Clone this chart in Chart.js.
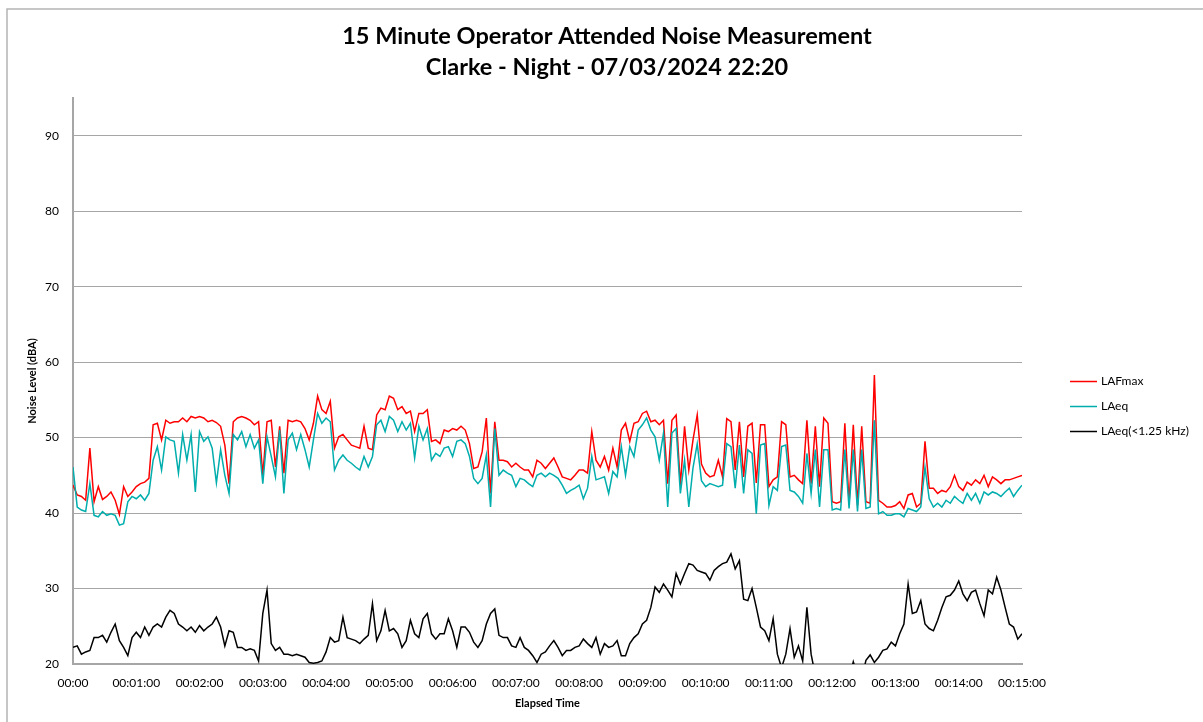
<!DOCTYPE html>
<html>
<head>
<meta charset="utf-8">
<title>15 Minute Operator Attended Noise Measurement</title>
<script src="https://cdn.jsdelivr.net/npm/chart.js@4.4.1/dist/chart.umd.min.js"></script>
<style>
  html, body { margin: 0; padding: 0; background: #fff; }
</style>
</head>
<body>
<canvas id="noiseChart" width="1203" height="722"></canvas>
<script>
// readings sampled every 4 seconds over the 15 minute measurement
var sampleStep = 4;

var titleLines = ['15 Minute Operator Attended Noise Measurement', 'Clarke - Night - 07/03/2024 22:20'];
var seriesNames = ['LAFmax', 'LAeq', 'LAeq(<1.25 kHz)'];
var yTicks = [20, 30, 40, 50, 60, 70, 80, 90];

var lafmax = [
  43.7,42.4,42.2,41.7,48.6,41.5,43.5,41.8,42.2,42.8,41.7,39.8,43.5,42.2,42.8,43.5,43.9,44.1,44.6,
  51.7,51.9,49.7,52.3,51.9,52.1,52.1,52.6,52.1,52.8,52.6,52.8,52.6,52.1,52.3,52.0,51.5,49.0,43.9,
  52.1,52.6,52.8,52.6,52.3,51.7,52.1,45.0,52.1,52.3,46.1,51.5,45.3,52.3,52.1,52.3,52.1,51.2,49.7,
  51.9,55.5,53.7,53.2,54.8,48.6,50.1,50.4,49.7,49.0,48.8,48.6,51.5,48.6,48.4,53.0,53.9,53.7,55.5,
  55.2,53.7,54.1,53.2,53.5,50.8,53.2,53.2,53.7,49.5,49.7,49.2,51.0,50.8,51.2,51.0,51.5,51.0,49.2,
  45.9,46.1,48.1,52.6,42.6,52.1,47.0,47.0,46.8,46.1,46.6,46.1,45.7,45.7,44.8,47.0,46.6,45.9,46.6,
  47.3,46.1,44.8,44.6,44.4,45.0,45.7,45.7,45.3,50.8,47.0,46.1,47.5,45.7,48.6,46.1,51.0,51.9,49.5,
  51.9,52.1,53.2,53.5,52.1,52.3,51.7,52.3,43.9,52.3,53.0,43.7,51.5,45.7,49.7,53.0,46.5,45.3,44.8,
  45.0,47.0,44.8,52.5,52.1,45.7,52.1,44.8,51.5,51.9,44.0,51.7,51.7,43.5,44.4,44.8,52.1,51.7,44.8,
  45.0,44.4,43.9,52.3,43.9,51.5,43.5,52.6,51.9,41.5,41.3,41.5,51.9,41.3,51.7,41.0,51.5,41.5,41.3,
  58.3,41.7,41.3,40.8,40.8,41.0,41.5,40.6,42.4,42.6,40.8,41.3,49.5,43.3,43.3,42.6,43.0,42.8,43.5,
  45.0,43.5,43.0,44.1,43.7,44.4,43.9,45.0,43.5,44.8,44.4,43.9,44.4,44.4,44.6,44.8,45.0
];

var laeq = [
  46.1,40.8,40.4,40.2,43.9,39.7,39.5,40.2,39.7,39.9,39.7,38.4,38.6,41.5,42.2,41.9,42.4,41.7,42.6,
  47.0,48.8,45.7,50.1,49.7,49.5,45.3,50.4,47.0,50.4,42.8,50.8,49.5,50.1,48.6,44.0,48.4,45.0,42.6,
  50.4,49.7,50.8,48.8,50.4,48.6,49.7,43.9,50.1,47.5,44.8,51.0,42.6,49.7,50.6,48.4,50.4,48.4,46.1,
  49.7,53.2,51.9,52.6,52.1,45.7,47.0,47.7,47.0,46.6,46.1,45.7,47.5,46.1,47.5,51.7,52.3,50.8,52.8,
  52.3,50.8,52.1,51.0,51.9,47.3,51.5,49.7,51.2,47.0,47.9,47.5,48.6,48.8,47.5,49.5,49.7,49.2,47.5,
  44.6,43.9,44.6,47.7,40.8,51.2,45.0,45.7,45.3,45.0,43.5,44.6,44.4,43.9,43.5,45.0,45.3,44.8,45.3,
  45.0,44.6,43.7,42.6,43.0,43.3,43.7,41.9,43.3,47.5,44.4,44.6,44.8,42.6,45.5,44.8,48.8,45.0,48.8,
  47.5,51.0,51.7,52.6,51.0,50.1,47.0,50.6,40.8,50.6,51.2,42.6,47.0,40.8,46.0,49.2,44.3,43.5,43.9,
  43.7,43.5,43.7,49.2,48.8,43.3,49.0,42.6,48.4,47.9,39.9,49.0,49.2,41.0,43.5,43.0,48.8,49.0,43.0,
  42.8,42.2,41.3,47.9,42.6,48.4,40.8,48.4,48.4,40.4,40.6,40.4,48.4,40.6,48.4,40.2,48.4,40.6,40.8,
  52.3,39.9,40.2,39.7,39.7,39.9,39.9,39.5,40.6,40.4,40.2,40.8,46.1,41.9,40.8,41.3,40.8,41.7,41.3,
  42.2,41.7,41.3,42.6,41.7,42.6,41.3,42.8,42.4,42.8,42.6,42.2,42.8,43.3,42.2,43.0,43.7
];

var laeqLow = [
  22.2,22.4,21.3,21.6,21.8,23.5,23.5,23.8,22.9,24.2,25.3,23.1,22.2,21.1,23.5,24.2,23.5,24.9,23.8,
  24.9,25.3,24.9,26.2,27.1,26.7,25.3,24.9,24.4,24.9,24.2,25.1,24.4,24.9,25.3,26.2,24.9,22.4,24.4,
  24.2,22.2,22.2,21.8,22.0,21.8,20.4,26.7,29.8,22.7,21.8,22.2,21.3,21.3,21.1,21.3,21.1,20.9,20.2,
  20.1,20.2,20.4,21.6,23.5,22.9,23.1,26.2,23.5,23.3,23.1,22.7,23.3,23.8,28.0,23.1,24.4,27.1,24.4,
  24.7,24.0,22.2,23.1,25.8,24.0,23.5,26.0,26.7,24.0,23.3,24.0,24.0,26.0,24.4,22.2,24.9,24.9,24.2,
  22.9,22.2,23.1,25.3,26.7,27.3,23.8,23.5,23.5,22.4,22.2,23.5,22.2,21.8,21.1,20.2,21.3,21.6,22.4,
  23.1,22.2,21.1,21.8,21.8,22.2,22.4,23.3,22.7,22.2,23.5,21.3,22.7,22.2,22.4,23.1,21.1,21.1,22.7,
  23.5,24.0,25.3,25.8,27.5,30.2,29.5,30.6,29.8,28.9,32.0,30.6,32.0,33.3,33.1,32.4,32.2,32.0,31.1,
  32.4,32.9,33.3,33.5,34.6,32.6,33.7,28.6,28.4,30.0,27.5,24.9,24.4,23.1,26.0,21.3,19.5,21.3,24.7,
  20.9,22.4,20.4,27.5,21.3,18.5,18.0,17.5,17.0,17.0,17.0,17.5,17.0,18.0,20.3,18.5,18.0,20.5,21.2,
  20.2,20.9,21.8,22.0,22.9,22.4,24.0,25.3,30.6,26.7,26.9,28.4,25.3,24.7,24.4,25.8,27.5,28.9,29.1,
  29.8,31.0,29.3,28.4,29.5,29.8,28.0,26.4,29.8,29.3,31.5,29.8,27.5,25.3,24.9,23.3,24.0
];

var elapsed = lafmax.map(function (v, i) { return i * sampleStep; });

function points(values) {
  return values.map(function (v, i) { return { x: elapsed[i], y: v }; });
}

function fmtElapsed(sec) {
  if (sec === 0) return '00:00';
  var m = Math.floor(sec / 60);
  return '00:' + (m < 10 ? '0' : '') + m + ':00';
}

var FONT = 'Lato, "Open Sans", sans-serif';

// white background, chart frame and the two-line title across the whole canvas
var frame = {
  id: 'frame',
  beforeDraw: function (chart) {
    var ctx = chart.ctx;
    ctx.save();
    ctx.fillStyle = '#fff';
    ctx.fillRect(0, 0, chart.width, chart.height);
    ctx.strokeStyle = '#b4b4b4';
    ctx.lineWidth = 1.5;
    ctx.beginPath();
    ctx.moveTo(7, chart.height);
    ctx.lineTo(7, 9);
    ctx.lineTo(chart.width, 9);
    ctx.stroke();
    ctx.fillStyle = '#000';
    ctx.font = 'bold 23.5px ' + FONT;
    ctx.textAlign = 'center';
    ctx.textBaseline = 'middle';
    titleLines.forEach(function (line, i) {
      ctx.fillText(line, 607, 36 + i * 31);
    });
    ctx.restore();
  }
};

// legend on the right, drawn from the datasets
var sideLegend = {
  id: 'sideLegend',
  afterDraw: function (chart) {
    var ctx = chart.ctx;
    ctx.save();
    ctx.font = '12px ' + FONT;
    ctx.textBaseline = 'middle';
    chart.data.datasets.forEach(function (ds, i) {
      var y = 381.5 + i * 25;
      ctx.strokeStyle = ds.borderColor;
      ctx.lineWidth = 1.5;
      ctx.beginPath();
      ctx.moveTo(1070, y);
      ctx.lineTo(1097, y);
      ctx.stroke();
      ctx.fillStyle = '#000';
      ctx.fillText(ds.label, 1101, y);
    });
    ctx.restore();
  }
};

var ctx = document.getElementById('noiseChart').getContext('2d');
var chart = new Chart(ctx, {
  type: 'line',
  data: {
    datasets: [
      {
        label: seriesNames[0],
        data: points(lafmax),
        borderColor: '#ff0000',
        borderWidth: 1.5,
        order: 3
      },
      {
        label: seriesNames[1],
        data: points(laeq),
        borderColor: '#00adad',
        borderWidth: 1.5,
        order: 2
      },
      {
        label: seriesNames[2],
        data: points(laeqLow),
        borderColor: '#000000',
        borderWidth: 1.5,
        order: 1
      }
    ]
  },
  options: {
    responsive: false,
    animation: false,
    layout: { padding: { left: 0, right: 181, top: 98, bottom: 0 } },
    elements: {
      point: { radius: 0 },
      line: { tension: 0, fill: false }
    },
    plugins: {
      legend: { display: false },
      tooltip: { enabled: false },
      title: { display: false }
    },
    scales: {
      x: {
        type: 'linear',
        min: 0,
        max: 900,
        afterFit: function (scale) { scale.height = 58; },
        ticks: {
          stepSize: 60,
          autoSkip: false,
          maxRotation: 0,
          padding: 12,
          color: '#000',
          font: { family: FONT, size: 12 },
          callback: function (v) { return fmtElapsed(v); }
        },
        grid: { display: false, drawTicks: false },
        border: { display: true, color: '#a6a6a6', width: 2 },
        title: {
          display: true,
          text: 'Elapsed Time',
          color: '#000',
          font: { family: FONT, size: 11, weight: 'bold' },
          padding: { top: 0, bottom: 12 }
        }
      },
      y: {
        min: 20,
        max: 95,
        afterFit: function (scale) { scale.width = 73; },
        afterBuildTicks: function (scale) {
          scale.ticks = yTicks.map(function (v) { return { value: v }; });
        },
        ticks: {
          padding: 14,
          color: '#000',
          font: { family: FONT, size: 12 }
        },
        grid: { color: '#a6a6a6', lineWidth: 1, drawTicks: false },
        border: { display: true, color: '#a6a6a6', width: 2 },
        title: {
          display: true,
          text: 'Noise Level (dBA)',
          color: '#000',
          font: { family: FONT, size: 11, weight: 'bold' },
          padding: { top: 26, bottom: 0 }
        }
      }
    }
  },
  plugins: [frame, sideLegend]
});
</script>
</body>
</html>
